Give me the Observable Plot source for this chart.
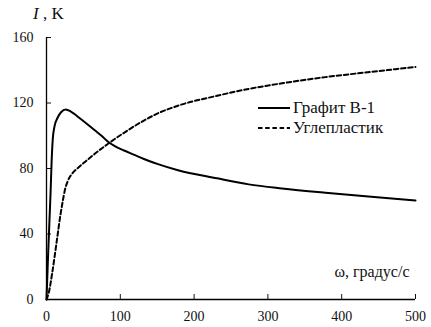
<!DOCTYPE html>
<html>
<head>
<meta charset="utf-8">
<script src="https://cdn.jsdelivr.net/npm/d3@7"></script>
<script src="https://cdn.jsdelivr.net/npm/@observablehq/plot@0.6"></script>
<style>
  html, body { margin: 0; padding: 0; background: #fff; font-family: 'Liberation Serif', serif; }
  #wrap { position: relative; width: 431px; height: 327px; color: #111; }
  #wrap > svg { position: absolute; left: 0; top: 0; }
  .title { position: absolute; left: 33px; top: 4px; font-size: 17px; line-height: 20px; white-space: nowrap; }
  .legend { position: absolute; left: 258px; top: 98px; font-size: 17px; line-height: 20px; }
  .legend div { display: flex; align-items: center; white-space: nowrap; height: 20px; }
</style>
</head>
<body>
<div id="wrap"></div>
<script>
const xTicks = [0, 100, 200, 300, 400, 500];
const yTicks = [0, 40, 80, 120, 160];
const seriesNames = ["Графит В-1", "Углепластик"];
const graphiteX = [0, 2, 4, 5.5, 7, 8.5, 11, 15, 20, 26, 33, 42, 52, 65, 75, 83, 92, 105, 120, 132, 150, 177, 231, 274, 319, 378, 440, 500];
const graphiteY = [0, 25, 48, 65, 85, 98, 106, 111, 114.5, 116, 114.8, 111.8, 108.3, 103.5, 99.8, 96.5, 93.8, 91, 88.2, 85.8, 82.8, 79.1, 74, 70.3, 67.8, 65.2, 62.8, 60.5];
const carbonX = [0, 3, 8, 14, 19, 22, 25, 29, 35, 42.5, 52, 65, 83, 105, 132, 150, 177, 229, 274, 319, 378, 440, 500];
const carbonY = [0, 4, 17, 36, 52, 60, 67, 72.5, 77, 80.3, 84, 88.8, 95, 101.8, 109.3, 113.5, 118.2, 124.2, 128.6, 132, 135.8, 139, 142];

const graphite = graphiteX.map((x, i) => ({x, y: graphiteY[i]}));
const carbon = carbonX.map((x, i) => ({x, y: carbonY[i]}));

const font = "Liberation Serif";
const chart = Plot.plot({
  width: 431,
  height: 327,
  marginLeft: 46,
  marginRight: 16,
  marginTop: 37,
  marginBottom: 28,
  style: {fontFamily: font, fontSize: "14px", color: "#111", background: "transparent"},
  x: {domain: [0, 500], ticks: xTicks},
  y: {domain: [0, 160], ticks: yTicks},
  marks: [
    Plot.axisX({ticks: xTicks, tickSize: 0, tickPadding: 12, label: null, fontSize: 14, fontFamily: font}),
    Plot.axisX({ticks: xTicks.slice(1), tickSize: -5, text: null, label: null, strokeWidth: 1}),
    Plot.axisY({ticks: yTicks, tickSize: 0, tickPadding: 13, label: null, fontSize: 14, fontFamily: font}),
    Plot.axisY({ticks: yTicks.slice(1), tickSize: -5, text: null, label: null, strokeWidth: 1}),
    Plot.ruleX([0], {stroke: "#000", strokeWidth: 1.3}),
    Plot.ruleY([0], {stroke: "#000", strokeWidth: 1.3}),
    Plot.line(carbon, {x: "x", y: "y", stroke: "#000", strokeWidth: 2, strokeDasharray: "4.5,2.7", curve: "monotone-x"}),
    Plot.line(graphite, {x: "x", y: "y", stroke: "#000", strokeWidth: 2, curve: "monotone-x"}),
    Plot.text(["ω, градус/с"], {frameAnchor: "bottom-right", textAnchor: "end", dx: -6, dy: -23, fontSize: 16, fontFamily: font, fill: "#111"})
  ]
});

const wrap = document.getElementById("wrap");
wrap.appendChild(chart);

const title = document.createElement("div");
title.className = "title";
title.innerHTML = '<i>I</i> , K';
wrap.appendChild(title);

const legend = document.createElement("div");
legend.className = "legend";
const dashes = ["", "4.5,2.7"];
seriesNames.forEach((name, i) => {
  const row = document.createElement("div");
  row.innerHTML = `<svg width="35" height="6"><line x1="0" y1="3" x2="32" y2="3" stroke="#000" stroke-width="2" ${dashes[i] ? `stroke-dasharray="${dashes[i]}"` : ""}/></svg><span>${name}</span>`;
  legend.appendChild(row);
});
wrap.appendChild(legend);
</script>
</body>
</html>
